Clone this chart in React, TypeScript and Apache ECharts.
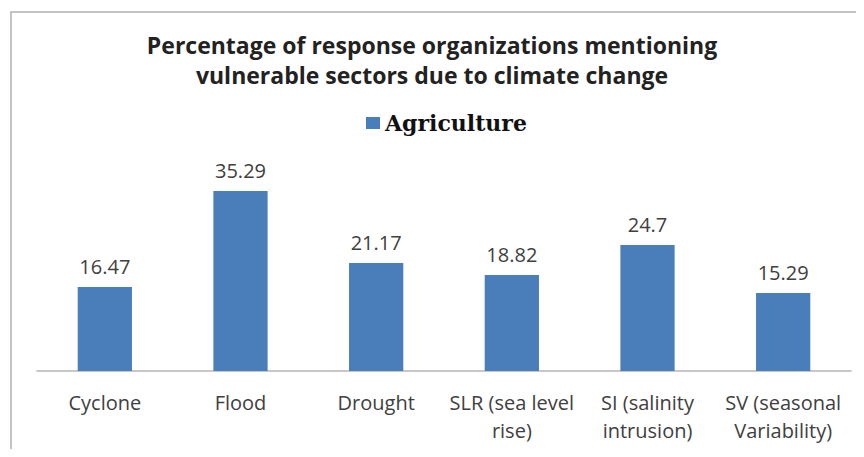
import React, { useEffect, useRef } from "react";
import * as echarts from "echarts";

const categories = [
  "Cyclone",
  "Flood",
  "Drought",
  "SLR (sea level\nrise)",
  "SI (salinity\nintrusion)",
  "SV (seasonal\nVariability)",
];
const agriculture = [16.47, 35.29, 21.17, 18.82, 24.7, 15.29];
const seriesName = "Agriculture";
const titleText =
  "Percentage of response organizations mentioning\nvulnerable sectors due to climate change";

const SANS = '"Open Sans", "Noto Sans", sans-serif';

export default function App() {
  const ref = useRef<HTMLDivElement>(null);

  useEffect(() => {
    if (!ref.current) return;
    const chart = echarts.init(ref.current, undefined, { renderer: "svg" });
    chart.setOption({
      animation: false,
      backgroundColor: "#ffffff",
      title: {
        text: titleText,
        left: "center",
        top: 25,
        textStyle: {
          fontFamily: SANS,
          fontWeight: "bold",
          fontSize: 23,
          lineHeight: 30,
          color: "#222222",
        },
      },
      legend: {
        top: 107,
        left: 361,
        itemWidth: 14,
        itemHeight: 12,
        icon: "rect",
        itemGap: 6,
        textStyle: {
          fontFamily: '"DejaVu Serif", "Liberation Serif", serif',
          fontWeight: "bold",
          fontSize: 22,
          color: "#111111",
        },
        data: [seriesName],
      },
      graphic: [
        {
          type: "rect",
          shape: { x: 11, y: 12, width: 851, height: 460 },
          style: { fill: "none", stroke: "#c4c4c4", lineWidth: 2 },
          silent: true,
        },
      ],
      grid: { left: 37, right: 13, top: 167, bottom: 86, containLabel: false },
      xAxis: {
        type: "category",
        data: categories,
        axisLine: { lineStyle: { color: "#c8c8c8", width: 2 } },
        axisTick: { show: false },
        axisLabel: {
          interval: 0,
          margin: 17,
          fontFamily: SANS,
          fontSize: 20,
          lineHeight: 28,
          color: "#404040",
        },
      },
      yAxis: {
        type: "value",
        min: 0,
        max: 40,
        show: false,
        splitLine: { show: false },
      },
      series: [
        {
          name: seriesName,
          type: "bar",
          data: agriculture,
          barWidth: "40%",
          itemStyle: { color: "#4a7ebb" },
          label: {
            show: true,
            position: "top",
            distance: 11,
            fontFamily: SANS,
            fontSize: 20,
            color: "#404040",
          },
        },
      ],
    });
    return () => chart.dispose();
  }, []);

  return <div ref={ref} style={{ width: 864, height: 457, margin: -8 }} />;
}
